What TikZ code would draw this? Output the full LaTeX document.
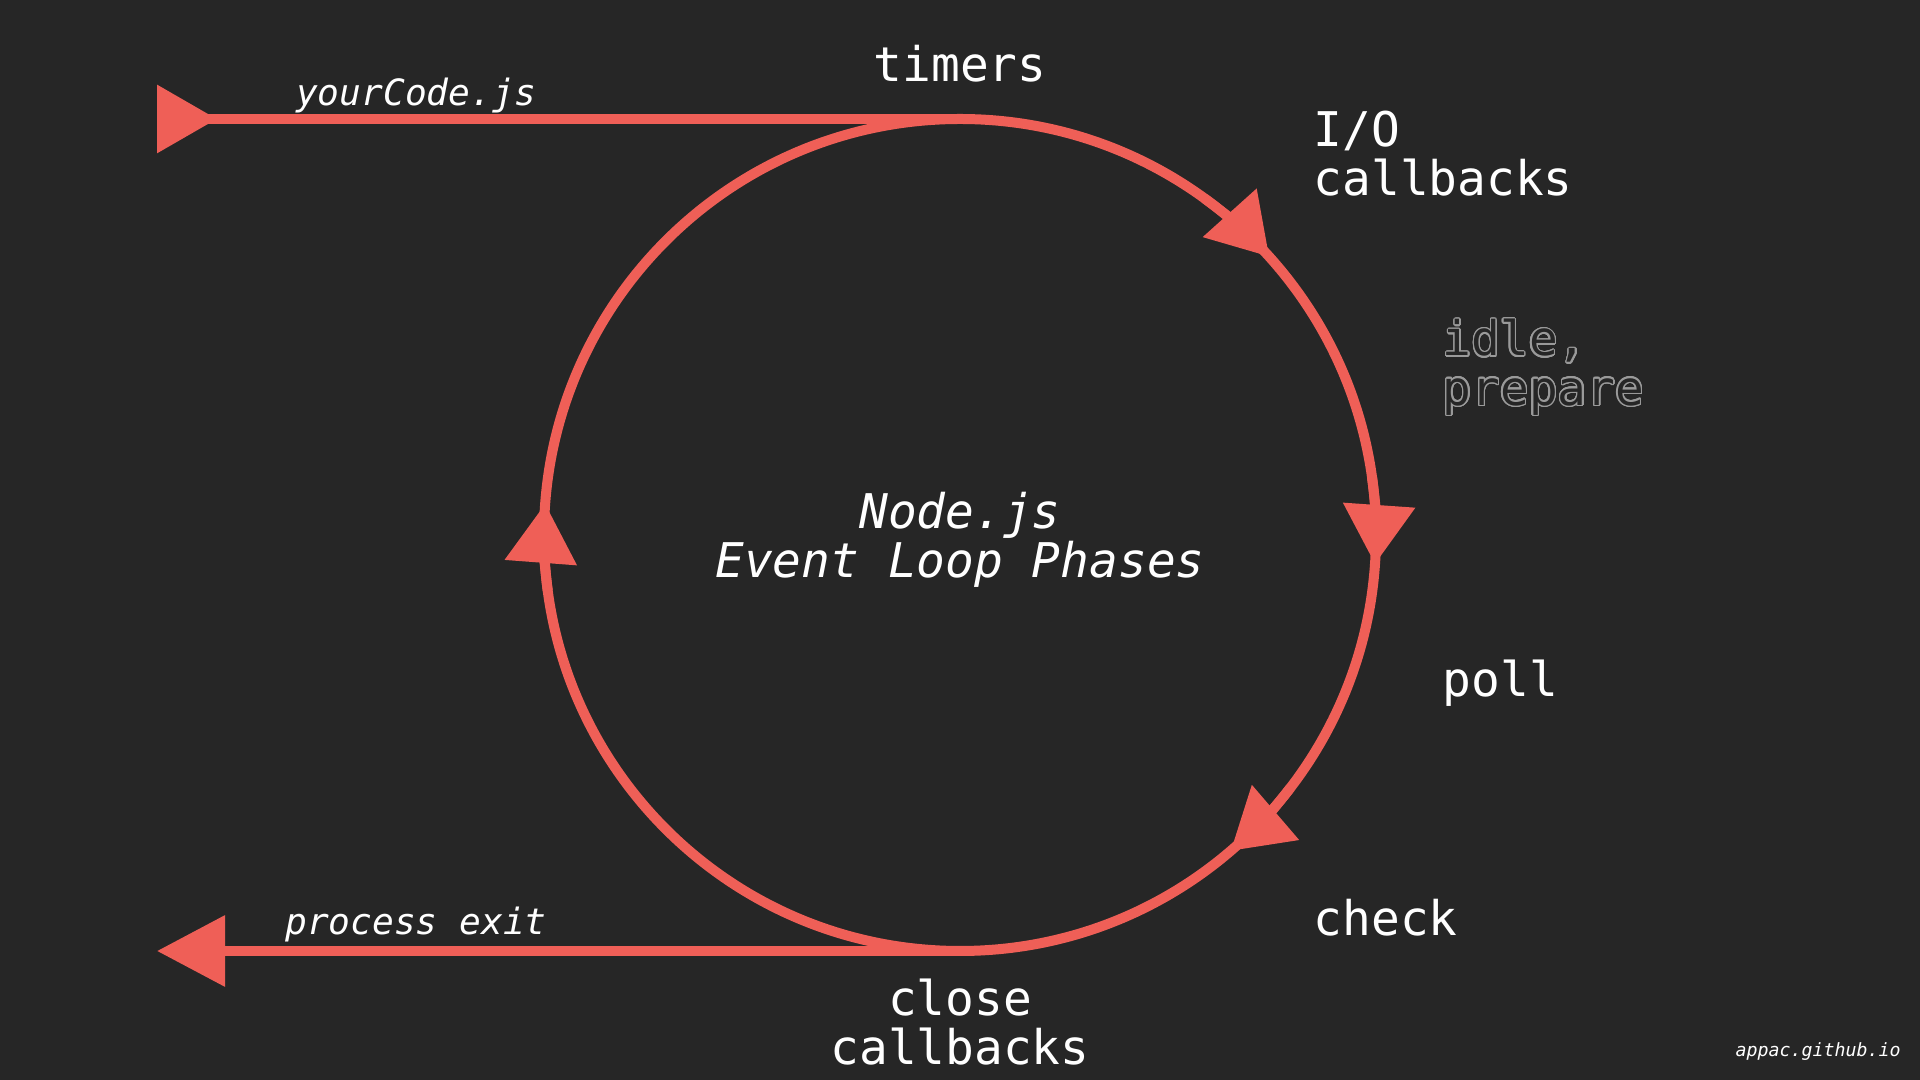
\documentclass[tikz,border=0pt]{standalone}
\usepackage{fontspec}
\setmonofont{DejaVu Sans Mono}
\usepackage{contour}
\usetikzlibrary{arrows.meta}
\definecolor{bgdark}{HTML}{262626}
\definecolor{loopred}{HTML}{EF5F57}
\definecolor{idlegrey}{HTML}{9A9A9A}
\contourlength{0.4pt}
\contournumber{24}
% hollow grey letters, as drawn for the idle phase
\newcommand{\hollow}[1]{\textcolor{bgdark}{\contour{idlegrey}{#1}}}

\begin{document}
\begin{tikzpicture}[
    every node/.style={font=\fontsize{13.6pt}{14pt}\selectfont\ttfamily,
        text=white, inner sep=0pt},
    phase/.style={align=left, anchor=west},
    caption/.style={font=\fontsize{10.3pt}{12pt}\selectfont\ttfamily\itshape},
    loopline/.style={draw=loopred, line width=1mm},
    looptip/.style={-{Triangle[length=5.9mm, width=7mm]}},
]
\fill[bgdark] (0,0) rectangle (19.2,10.8);
\useasboundingbox (0,0) rectangle (19.2,10.8);

% the loop
\coordinate (hub) at (9.6,5.45);
\coordinate (c-timers) at (9.6,9.61);
\coordinate (c-close) at (9.6,1.29);
\coordinate (entry) at (1.57,9.61);
\coordinate (exit) at (1.57,1.29);
\draw[loopline] (hub) circle[radius=4.16];
\foreach \a in {42, -4, -49.4, 175.7}
    \draw[loopline, looptip] (hub) ++(\a+12:4.16)
        arc[start angle=\a+12, end angle=\a, radius=4.16];

% way in and way out
\draw[loopline, {Triangle[reversed, length=6mm, width=6.6mm]}-] (entry) -- (c-timers);
\draw[loopline, -{Triangle[length=6.8mm, width=6.9mm]}] (c-close) -- (exit);

% phases
\node (timers) at (9.6,10.16) {timers};
\node[phase] (io) at (13.13,9.26) {I/O\\callbacks};
\node[phase] (idle) at (14.42,7.12) {\hollow{idle,}\\\hollow{prepare}};
\node[phase] (poll) at (14.42,3.97) {poll};
\node[phase] (check) at (13.13,1.62) {check};
\node[align=center] (close) at (9.6,0.58) {close\\callbacks};

\node[align=center, font=\fontsize{13.6pt}{14pt}\selectfont\ttfamily\itshape]
    (title) at (9.6,5.4) {Node.js\\Event Loop Phases};
\node[caption] (code) at (4.16,9.84) {yourCode.js};
\node[caption] (quit) at (4.16,1.55) {process exit};
\node[font=\fontsize{5.2pt}{6pt}\selectfont\ttfamily\itshape] (site) at (18.18,0.28) {appac.github.io};
\end{tikzpicture}
\end{document}
